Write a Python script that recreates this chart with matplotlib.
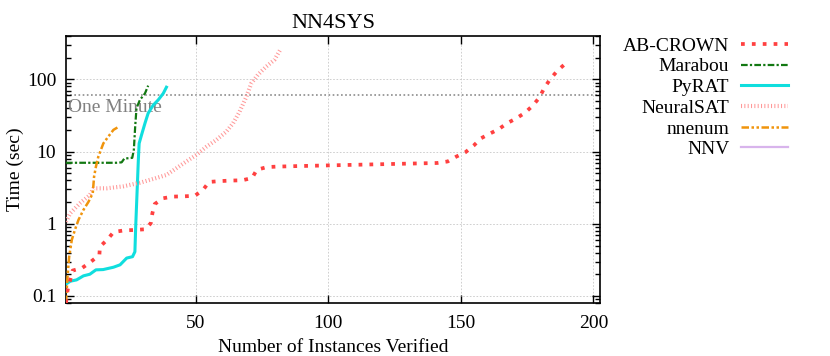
import matplotlib.pyplot as plt
from matplotlib.ticker import LogLocator, FuncFormatter, NullFormatter

plt.rcParams['font.family'] = ['Liberation Serif', 'DejaVu Serif']

# AB-CROWN
abc_x = [1, 1.6, 3.5, 7, 10, 13.6, 13.8, 16.7, 19, 23, 26.6, 31, 33, 33.6, 34.5, 37.7, 41.4,
         45.4, 49.6, 52.7, 55, 59, 63.3, 67.4, 71.2, 73, 76.8, 80.8, 84.8, 88.4, 92.8, 96.8,
         101, 105, 109, 113, 117, 121, 125, 129, 133, 137, 141, 145, 148.2, 151.7, 154.8,
         157.6, 160.7, 164.2, 167.4, 170.9, 174.2, 177, 179.6, 181.4, 183.6, 186.4, 189.3, 190.5]
abc_y = [0.08, 0.12, 0.225, 0.243, 0.29, 0.37, 0.48, 0.61, 0.77, 0.81, 0.82, 0.84, 1.02, 1.4,
         1.88, 2.26, 2.38, 2.4, 2.44, 2.95, 3.8, 3.9, 3.97, 4.0, 4.3, 5.6, 6.1, 6.2, 6.25, 6.3,
         6.35, 6.4, 6.45, 6.5, 6.55, 6.6, 6.65, 6.7, 6.75, 6.8, 6.85, 6.9, 6.95, 7.3, 8.5, 9.8,
         12.1, 15.3, 17.6, 20.4, 24.7, 28.9, 34.6, 43, 56, 75.5, 100, 132, 164, 175]

# Marabou
mar_x = [1, 5, 10, 15, 20, 22, 23, 26, 26.6, 27.1, 27.6, 28.9, 30.8, 32]
mar_y = [7.0, 7.0, 7.0, 7.0, 7.0, 7.1, 8.0, 8.2, 10.6, 22, 40, 52, 64, 82]

# PyRAT
pyr_x = [1, 2.6, 5, 7.6, 10, 12.3, 15, 18.9, 21.4, 23.9, 26.1, 27, 27.3, 27.8, 28.3, 28.6,
         29.5, 30.8, 32, 33.9, 35.8, 37.7, 38.9]
pyr_y = [0.146, 0.16, 0.167, 0.19, 0.2, 0.23, 0.232, 0.25, 0.27, 0.335, 0.35, 0.41, 0.91,
         2.65, 7.7, 13, 17, 24.7, 34, 44, 52, 64, 78]

# NeuralSAT
nsat_x = [1, 2.6, 6.3, 10, 11.4, 16.4, 22.6, 28.9, 35, 38.9, 42.7, 46.4, 50.2, 54, 57.7,
          61.5, 64, 66.5, 69, 70.9, 73.4, 76.5, 79.6, 81.8]
nsat_y = [1.07, 1.4, 1.93, 2.5, 3.1, 3.1, 3.3, 3.7, 4.3, 4.75, 5.9, 7.3, 9.0, 11.7, 14.5,
          18.9, 24.6, 35.8, 57, 88, 116, 150, 186, 256]

# nnenum
nne_x = [1, 1.6, 2.2, 3.2, 4.4, 5.7, 7.6, 9.5, 11.1, 11.6, 12.3, 13.2, 15.1, 17, 18.9, 20.8]
nne_y = [0.08, 0.19, 0.35, 0.6, 0.83, 1.13, 1.56, 2.02, 2.65, 4.5, 6.2, 8.5, 13, 16.2, 20, 22]

# NNV (no solved instances)
nnv_x = []
nnv_y = []

one_minute = 60

fig = plt.figure(figsize=(8.3, 3.56), dpi=100)
ax = fig.add_axes([0.0795, 0.149, 0.6435, 0.750])

ax.axhline(one_minute, color='#8c8c8c', lw=1.2, linestyle=(0, (1, 1.5)), zorder=1)
ax.text(1.8, one_minute * 0.88, 'One Minute', color='#808080', fontsize=14,
        va='top', ha='left')

l1, = ax.plot(abc_x, abc_y, color='#ff4040', lw=2.7, linestyle=(0, (1, 1.9)),
              dash_capstyle='butt', label='AB-CROWN', zorder=4)
l2, = ax.plot(mar_x, mar_y, color='#127812', lw=1.6, linestyle=(0, (3, 1, 1, 1)),
              label='Marabou', zorder=3)
l3, = ax.plot(pyr_x, pyr_y, color='#10dede', lw=2.2, label='PyRAT', zorder=3)
l4, = ax.plot(nsat_x, nsat_y, color='#ff9a9a', lw=3.0, linestyle=(0, (0.25, 0.55)),
              dash_capstyle='butt', label='NeuralSAT', zorder=3)
l5, = ax.plot(nne_x, nne_y, color='#f0940c', lw=1.8, linestyle=(0, (3, 1, 1, 1, 1, 1)),
              label='nnenum', zorder=3)
l6, = ax.plot(nnv_x, nnv_y, color='#d8b4ec', lw=1.6, label='NNV')

ax.set_yscale('log')
ax.set_xlim(1, 202.5)
ax.set_ylim(0.08, 400)
ax.set_xticks([50, 100, 150, 200])
ax.yaxis.set_major_locator(LogLocator(base=10, numticks=10))
ax.yaxis.set_minor_locator(LogLocator(base=10, subs=range(2, 10), numticks=10))
ax.yaxis.set_major_formatter(FuncFormatter(lambda v, p: '%g' % v))
ax.yaxis.set_minor_formatter(NullFormatter())

ax.tick_params(which='both', direction='in', top=True, right=True, labelsize=14, width=1)
ax.tick_params(which='major', length=6)
ax.tick_params(which='minor', length=3.5)
ax.tick_params(axis='x', which='major', pad=9)
ax.tick_params(axis='y', which='major', pad=7)
ax.grid(True, which='major', color='#c8c8c8', lw=0.6, linestyle=(0, (2, 2)))
for s in ax.spines.values():
    s.set_linewidth(1.2)

ax.set_title('NN4SYS', fontsize=16, pad=6)
ax.set_xlabel('Number of Instances Verified', fontsize=14, labelpad=5)
ax.set_ylabel('Time (sec)', fontsize=14, labelpad=2)

fig.legend(handles=[l1, l2, l3, l4, l5, l6], loc='upper right',
           bbox_to_anchor=(0.949, 0.896), frameon=False, markerfirst=False,
           fontsize=14, handlelength=2.4, handletextpad=0.6, labelspacing=0.16,
           borderaxespad=0, borderpad=0)

fig.savefig('out.png', dpi=100)
